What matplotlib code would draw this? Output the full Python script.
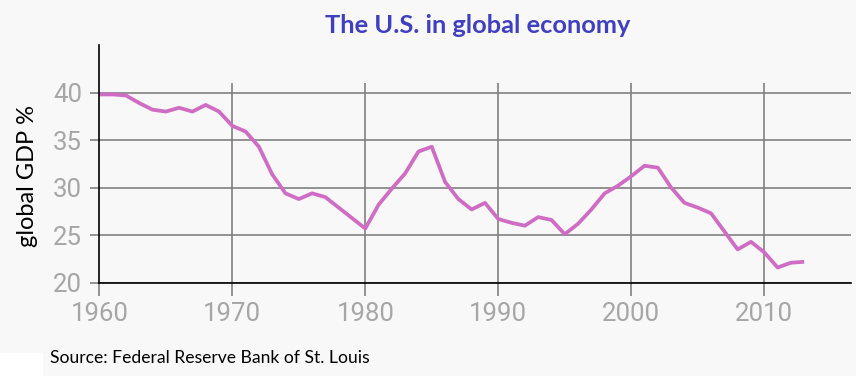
import numpy as np
import matplotlib
matplotlib.use("Agg")
import matplotlib.pyplot as plt
from matplotlib.patches import Rectangle

# US share of global GDP (%)
years = list(range(1960, 2014))
gdp_share = [
    39.8, 39.8, 39.7, 38.9, 38.2, 38.0, 38.4, 38.0, 38.7, 38.0,
    36.5, 35.9, 34.3, 31.4, 29.4, 28.8, 29.4, 29.0, 27.9, 26.8,
    25.7, 28.2, 29.9, 31.5, 33.8, 34.3, 30.6, 28.8, 27.7, 28.4,
    26.7, 26.3, 26.0, 26.9, 26.6, 25.1, 26.2, 27.7, 29.4, 30.2,
    31.2, 32.3, 32.1, 30.0, 28.4, 27.9, 27.3, 25.4, 23.5, 24.3,
    23.2, 21.6, 22.1, 22.2,
]
x_ticks = [1960, 1970, 1980, 1990, 2000, 2010]
y_ticks = [20, 25, 30, 35, 40]

title = "The U.S. in global economy"
y_label = "global GDP %"
source = "Source: Federal Reserve Bank of St. Louis"

BG = "#f8f8f8"
GRID = "#808080"

fig = plt.figure(figsize=(8.56, 3.76), dpi=100, facecolor=BG)
ax = fig.add_axes([0.116, 0.2481, 0.8778, 0.6322])
ax.set_facecolor(BG)

ax.plot(years, gdp_share, color="#cf6cc3", lw=2.7, zorder=3,
        solid_joinstyle="round", solid_capstyle="butt")

ax.set_xlim(1960, 2016.5)
ax.set_ylim(20, 45)
ax.set_xticks(x_ticks)
ax.set_yticks(y_ticks)

# horizontal grid over full width, vertical grid stops short of the top
ax.grid(axis="y", color=GRID, lw=1.2, zorder=1)
ax.vlines(x_ticks[1:], 20, 41.0, color=GRID, lw=1.2, zorder=1)

for s in ["top", "right"]:
    ax.spines[s].set_visible(False)
for s in ["left", "bottom"]:
    ax.spines[s].set_color("black")
    ax.spines[s].set_linewidth(1.2)
    ax.spines[s].set_zorder(4)

ax.tick_params(axis="x", length=9.6, width=1.2, color=GRID, pad=4,
               labelsize=18.5, labelcolor="#a6a6a6")
ax.tick_params(axis="y", length=6.5, width=1.2, color=GRID, pad=6,
               labelsize=18.5, labelcolor="#a6a6a6")
for lbl in ax.get_xticklabels() + ax.get_yticklabels():
    lbl.set_family("Roboto")

fig.text(28 / 856, 1 - 176 / 376, y_label, rotation=90, ha="center",
         va="center", fontsize=17, family="Lato", color="black")
fig.text(477.5 / 856, 1 - 33 / 376, title, ha="center", va="baseline",
         fontsize=18.3, family="Lato", fontweight="bold", color="#3f3fbf")
fig.text(50 / 856, 1 - 363 / 376, source, ha="left", va="baseline",
         fontsize=12.6, family="Lato", color="black")

# white strip in the bottom-left corner of the reference
fig.patches.append(Rectangle((0, 0), 43 / 856, 23 / 376, transform=fig.transFigure,
                             facecolor="white", edgecolor="none", zorder=0))

fig.savefig("out.png", dpi=100, facecolor=BG)
plt.close("all")
